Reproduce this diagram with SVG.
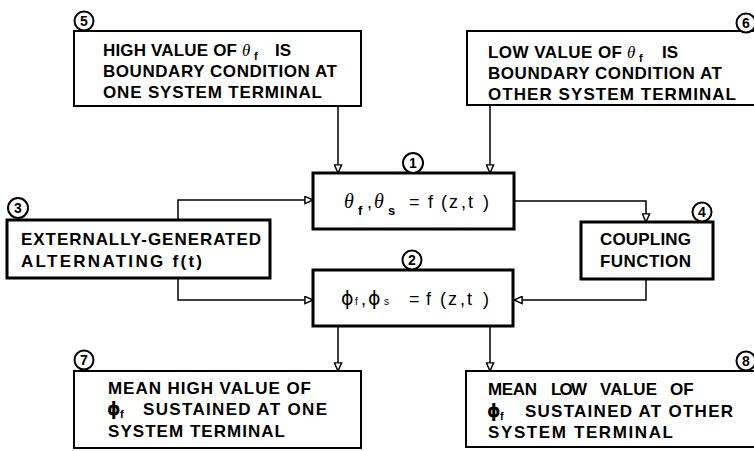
<svg xmlns="http://www.w3.org/2000/svg" width="754" height="451" viewBox="0 0 754 451">
  <style>
    .box { fill: #fff; stroke: #000; }
    .outer { stroke-width: 2; }
    .inner { stroke-width: 3; }
    .tag circle { fill: #fff; stroke: #000; stroke-width: 2; }
    .tag text { font-family: "Liberation Sans", "DejaVu Sans", sans-serif; font-size: 14px; font-weight: bold; text-anchor: middle; }
    .lbl { font-family: "Liberation Sans", "DejaVu Sans", sans-serif; font-size: 17px; font-weight: bold; fill: #000; }
    .greek { font-family: "Liberation Serif", "DejaVu Serif", serif; font-style: italic; font-weight: normal; }
    .phi { font-family: "DejaVu Sans", sans-serif; font-style: normal; }
    .sub { font-size: 11px; }
    .eq { font-family: "Liberation Sans", "DejaVu Sans", sans-serif; font-size: 18px; fill: #000; }
    .wire { fill: none; stroke: #000; stroke-width: 1.5; marker-end: url(#head); }
  </style>
  <defs>
    <marker id="head" viewBox="0 0 10 10" refX="10" refY="5" markerWidth="9" markerHeight="9" markerUnits="userSpaceOnUse" orient="auto">
      <path d="M1,1 L10,5 L1,9 Z" fill="#fff" stroke="#000" stroke-width="1.6"/>
    </marker>
  </defs>

  <!-- connectors -->
  <g id="connectors">
    <path class="wire" d="M338 106 V173"/>
    <path class="wire" d="M490 105 V173"/>
    <path class="wire" d="M178 220 V200 H313"/>
    <path class="wire" d="M514 201 H646 V222"/>
    <path class="wire" d="M178 278 V300 H313"/>
    <path class="wire" d="M646 279 V300 H514"/>
    <path class="wire" d="M338 326 V371"/>
    <path class="wire" d="M490 326 V371"/>
  </g>

  <!-- 5: high boundary value -->
  <g id="node5">
    <rect class="box outer" x="74" y="31" width="287" height="75"/>
    <g class="tag"><circle cx="84" cy="21" r="9.5"/><text x="84" y="26">5</text></g>
    <text class="lbl" x="103" y="56" textLength="134">HIGH VALUE OF</text>
    <text class="lbl greek" x="242" y="56" font-size="19">θ</text>
    <text class="lbl sub" x="254" y="60">f</text>
    <text class="lbl" x="275" y="56">IS</text>
    <text class="lbl" x="103" y="77" textLength="234">BOUNDARY CONDITION AT</text>
    <text class="lbl" x="103" y="98" textLength="219">ONE SYSTEM TERMINAL</text>
  </g>

  <!-- 6: low boundary value -->
  <g id="node6">
    <rect class="box outer" x="467" y="31" width="292" height="74"/>
    <g class="tag"><circle cx="746" cy="23" r="9.5"/><text x="746" y="28">6</text></g>
    <text class="lbl" x="488" y="58" textLength="134">LOW VALUE OF</text>
    <text class="lbl greek" x="627" y="58" font-size="19">θ</text>
    <text class="lbl sub" x="639" y="62">f</text>
    <text class="lbl" x="662" y="58">IS</text>
    <text class="lbl" x="488" y="79" textLength="234">BOUNDARY CONDITION AT</text>
    <text class="lbl" x="488" y="100" textLength="248">OTHER SYSTEM TERMINAL</text>
  </g>

  <!-- 1: temperature field -->
  <g id="node1">
    <rect class="box inner" x="313" y="173" width="201" height="56"/>
    <g class="tag"><circle cx="413" cy="163" r="10"/><text x="413" y="168">1</text></g>
    <text class="eq" y="208"><tspan class="greek" x="344" font-size="20">θ</tspan><tspan x="358" dy="7" font-size="13" font-weight="bold">f</tspan><tspan x="367" dy="-7">,</tspan><tspan class="greek" x="374" font-size="20">θ</tspan><tspan x="388" dy="7" font-size="13" font-weight="bold">s</tspan><tspan x="409" dy="-7">=</tspan><tspan x="428">f</tspan><tspan x="441">(</tspan><tspan x="449">z</tspan><tspan x="461">,</tspan><tspan x="468">t</tspan><tspan x="483">)</tspan></text>
  </g>

  <!-- 3: external driver -->
  <g id="node3">
    <rect class="box inner" x="7" y="220" width="263" height="58"/>
    <g class="tag"><circle cx="18" cy="208" r="10"/><text x="18" y="213">3</text></g>
    <text class="lbl" x="21" y="245" textLength="240">EXTERNALLY-GENERATED</text>
    <text class="lbl" x="21" y="267" textLength="181">ALTERNATING f(t)</text>
  </g>

  <!-- 4: coupling -->
  <g id="node4">
    <rect class="box inner" x="581" y="222" width="132" height="57"/>
    <g class="tag"><circle cx="702" cy="212" r="9.5"/><text x="702" y="217">4</text></g>
    <text class="lbl" x="600" y="245" textLength="91">COUPLING</text>
    <text class="lbl" x="600" y="267" textLength="91">FUNCTION</text>
  </g>

  <!-- 2: flux field -->
  <g id="node2">
    <rect class="box inner" x="313" y="270" width="200" height="56"/>
    <g class="tag"><circle cx="412" cy="260" r="9.5"/><text x="412" y="265">2</text></g>
    <text class="eq" y="305"><tspan class="phi" x="341" font-size="19">ϕ</tspan><tspan x="355" font-size="10">f</tspan><tspan x="361">,</tspan><tspan class="phi" x="368" font-size="19">ϕ</tspan><tspan x="384" font-size="10">s</tspan><tspan x="409">=</tspan><tspan x="426">f</tspan><tspan x="440">(</tspan><tspan x="448">z</tspan><tspan x="460">,</tspan><tspan x="467">t</tspan><tspan x="483">)</tspan></text>
  </g>

  <!-- 7: mean high value -->
  <g id="node7">
    <rect class="box outer" x="74" y="371" width="287" height="77"/>
    <g class="tag"><circle cx="84" cy="360" r="9.5"/><text x="84" y="365">7</text></g>
    <text class="lbl" x="108" y="394" textLength="203">MEAN HIGH VALUE OF</text>
    <text class="lbl phi" x="107" y="415">ϕ</text>
    <text class="lbl sub" x="120" y="418">f</text>
    <text class="lbl" x="143" y="415" textLength="184">SUSTAINED AT ONE</text>
    <text class="lbl" x="108" y="437" textLength="177">SYSTEM TERMINAL</text>
  </g>

  <!-- 8: mean low value -->
  <g id="node8">
    <rect class="box outer" x="466" y="371" width="295" height="76"/>
    <g class="tag"><circle cx="746" cy="361" r="9.5"/><text x="746" y="366">8</text></g>
    <text class="lbl" x="488" y="395" textLength="49">MEAN</text>
    <text class="lbl" x="551" y="395" font-size="14" font-weight="normal" textLength="36">LOW</text>
    <text class="lbl" x="600" y="395" textLength="57">VALUE</text>
    <text class="lbl" x="670" y="395">OF</text>
    <text class="lbl phi" x="487" y="417">ϕ</text>
    <text class="lbl sub" x="500" y="420">f</text>
    <text class="lbl" x="525" y="417" textLength="208">SUSTAINED AT OTHER</text>
    <text class="lbl" x="488" y="438" textLength="185">SYSTEM TERMINAL</text>
  </g>
</svg>
